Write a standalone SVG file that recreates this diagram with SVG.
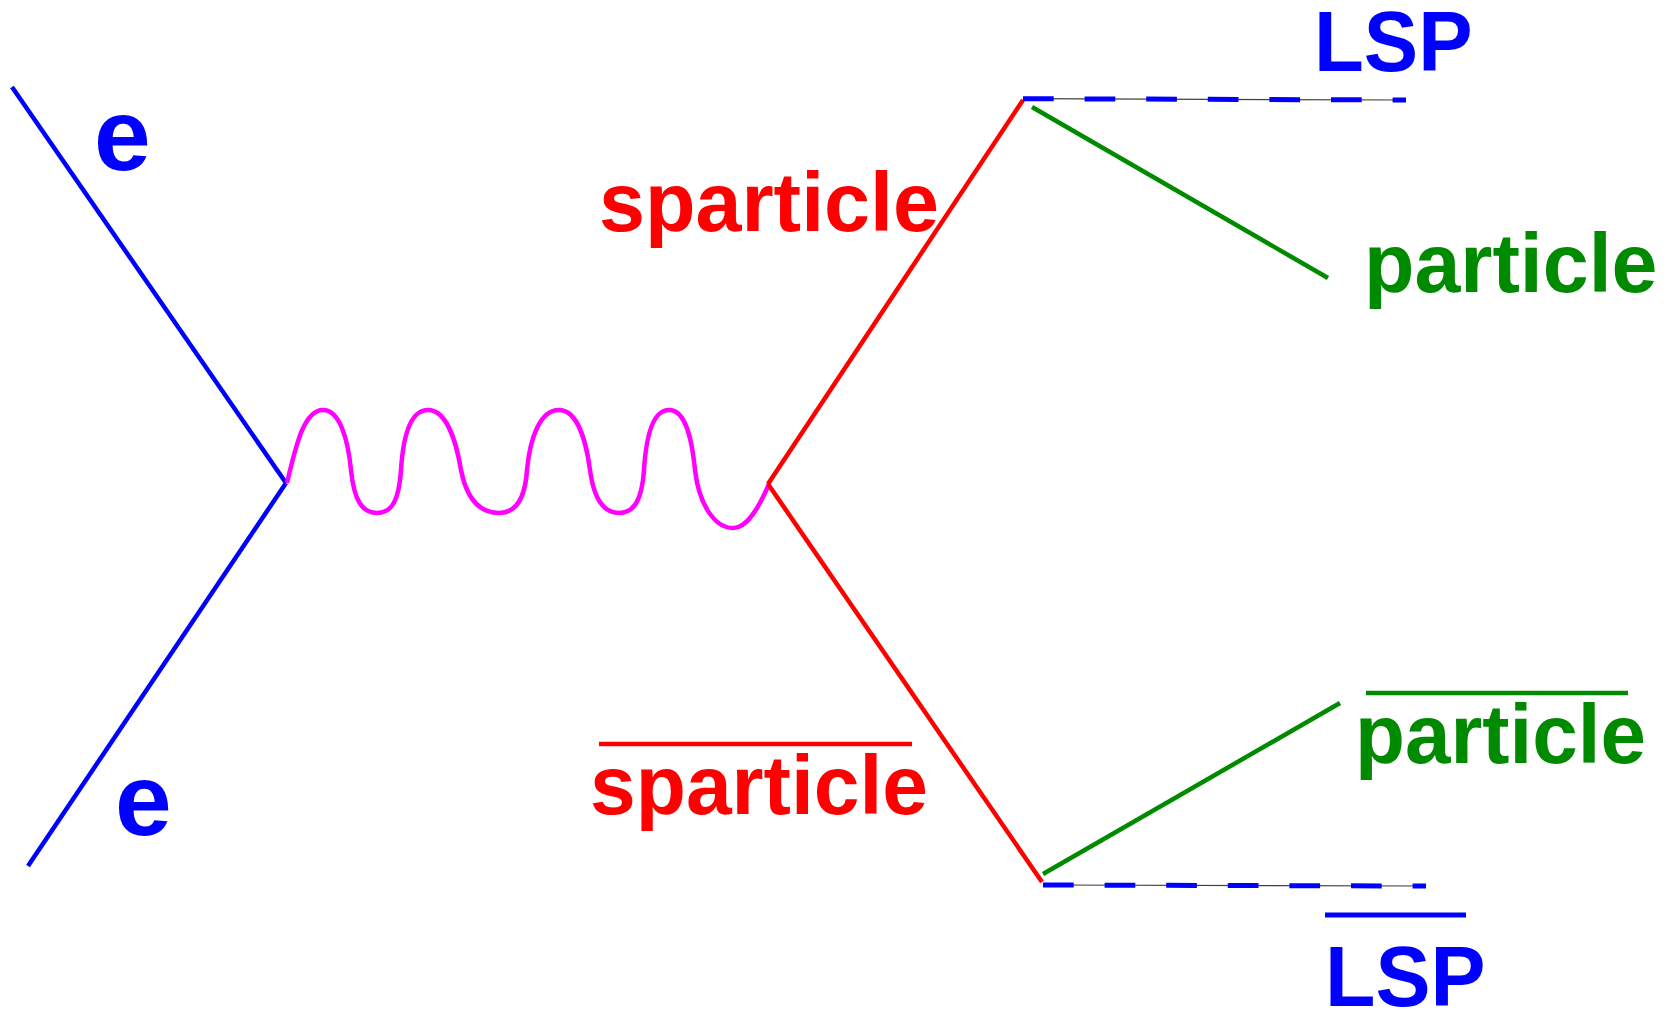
<svg xmlns="http://www.w3.org/2000/svg" width="1677" height="1011" viewBox="0 0 1677 1011">
<style>
  .lbl { font-family: "Liberation Sans", Arial, sans-serif; font-weight: bold; }
  .ln { fill: none; stroke-width: 4.5; stroke-linecap: butt; }
  .blue { stroke: #0000ff; }
  .red { stroke: #ff0000; }
  .green { stroke: #008a00; }
  .mag { stroke: #ff00ff; }
  .thin { stroke: #404040; stroke-width: 1.2; fill: none; }
  .dash { stroke: #0000ff; stroke-width: 5; fill: none; stroke-dasharray: 30.7 30.9; }
  .tb { fill: #0000ff; }
  .tr { fill: #ff0000; }
  .tg { fill: #008a00; }
</style>
<rect width="1677" height="1011" fill="#ffffff"/>
<g id="connectors">
  <line class="ln blue" x1="12" y1="87" x2="286" y2="483"/>
  <line class="ln blue" x1="286" y1="483" x2="28" y2="866"/>
  <path class="ln mag" d="M287,483 C295,450 303,410 323,410 C340,410 348,440 351,470 C354,500 362,513 377,513 C392,513 399,500 401,470 C403,438 410,410 428,410 C446,410 456,440 461,470 C467,500 480,513 499,513 C515,513 525,500 527,470 C530,438 540,410 559,410 C577,410 586,440 590,470 C594,500 604,513 619,513 C634,513 642,500 644,470 C646,438 652,410 669,410 C686,410 692,440 695,470 C699,505 715,528 733,528 C748,528 760,505 769,484"/>
  <line class="ln red" x1="768" y1="484" x2="1023" y2="100"/>
  <line class="ln red" x1="768" y1="484" x2="1042" y2="882"/>
  <line class="thin" x1="1023" y1="98.7" x2="1406" y2="100"/>
  <line class="dash" x1="1023" y1="98.7" x2="1406" y2="100"/>
  <line class="ln green" x1="1032" y1="107" x2="1328" y2="278"/>
  <line class="ln green" x1="1043" y1="874" x2="1340" y2="703"/>
  <line class="thin" x1="1043" y1="885" x2="1426" y2="886"/>
  <line class="dash" x1="1043" y1="885" x2="1426" y2="886"/>
</g>
<g id="label-e-top"><text class="lbl tb" x="94" y="170" font-size="102">e</text></g>
<g id="label-e-bottom"><text class="lbl tb" x="115" y="835" font-size="102">e</text></g>
<g id="label-sparticle"><text class="lbl tr" x="599" y="231" font-size="84" textLength="340" lengthAdjust="spacingAndGlyphs">sparticle</text></g>
<g id="label-antisparticle">
  <line class="ln red" x1="599" y1="744" x2="912" y2="744"/>
  <text class="lbl tr" x="590" y="814" font-size="84" textLength="338" lengthAdjust="spacingAndGlyphs">sparticle</text>
</g>
<g id="label-lsp-top"><text class="lbl tb" x="1314" y="70.5" font-size="85" textLength="158.5" lengthAdjust="spacingAndGlyphs">LSP</text></g>
<g id="label-particle"><text class="lbl tg" x="1364" y="292" font-size="84" textLength="293.5" lengthAdjust="spacingAndGlyphs">particle</text></g>
<g id="label-antiparticle">
  <line class="ln green" x1="1366" y1="693" x2="1628" y2="693"/>
  <text class="lbl tg" x="1355" y="763" font-size="84" textLength="291" lengthAdjust="spacingAndGlyphs">particle</text>
</g>
<g id="label-lsp-bottom">
  <line class="ln blue" x1="1325" y1="915" x2="1466" y2="915" style="stroke-width:5"/>
  <text class="lbl tb" x="1325" y="1006" font-size="85" textLength="160.5" lengthAdjust="spacingAndGlyphs">LSP</text>
</g>
</svg>
